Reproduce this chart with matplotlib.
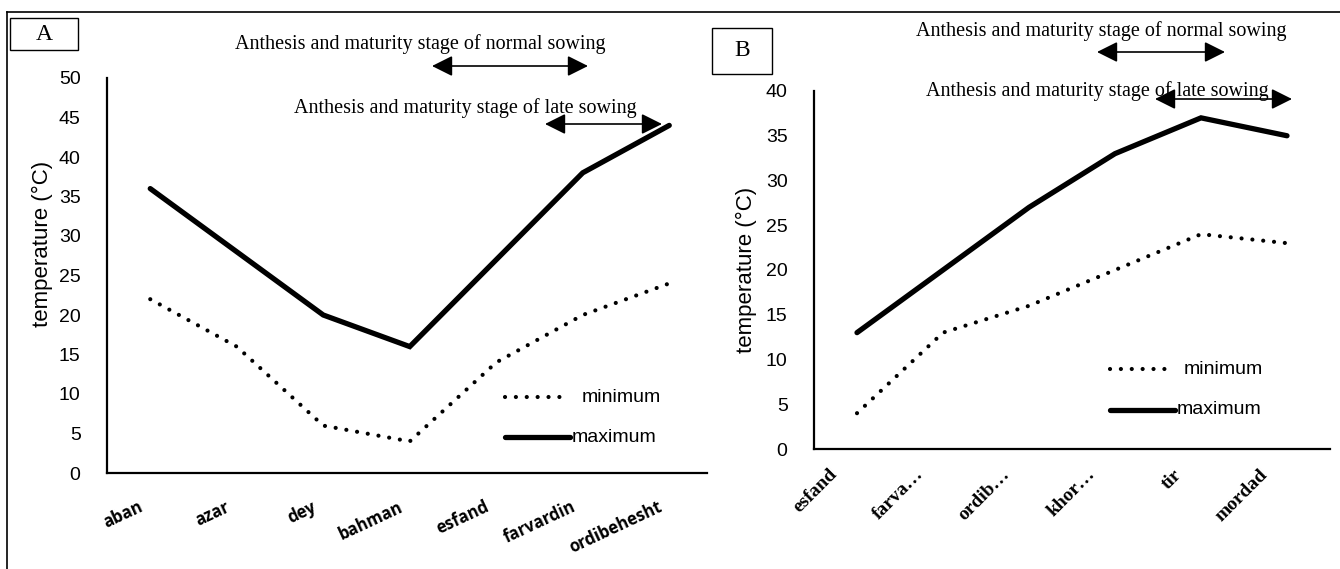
import numpy as np
import matplotlib.pyplot as plt
from matplotlib.transforms import ScaledTranslation
from matplotlib.patches import Rectangle, FancyArrowPatch
from matplotlib.lines import Line2D

# panel A: months of normal sowing
months_a = ['aban', 'azar', 'dey', 'bahman', 'esfand', 'farvardin', 'ordibehesht']
tmin_a = [22, 16, 6, 4, 14, 20, 24]
tmax_a = [36, 28, 20, 16, 27, 38, 44]

# panel B: months of late sowing (labels are cut off in the source)
months_b = ['esfand', 'farva\u2026', 'ordib\u2026', 'khor\u2026', 'tir', 'mordad']
tmin_b = [4, 13, 16, 20, 24, 23]
tmax_b = [13, 20, 27, 33, 37, 35]

yticks_a = np.arange(0, 55, 5)
yticks_b = np.arange(0, 45, 5)

note_normal = 'Anthesis and maturity stage of normal sowing'
note_late = 'Anthesis and maturity stage of late sowing'

W, H = 1340, 569
sans = ['Liberation Sans', 'DejaVu Sans']
serif = ['Liberation Serif', 'DejaVu Serif']
DOTS = (0, (0.01, 2.6))

fig = plt.figure(figsize=(W / 100, H / 100), dpi=100)


def px(x0, y0, x1, y1):
    # pixel box (top-left origin) -> figure fraction rect
    return [x0 / W, 1 - y1 / H, (x1 - x0) / W, (y1 - y0) / H]


def style_axes(ax, yticks, label_xy):
    for s in ['top', 'right']:
        ax.spines[s].set_visible(False)
    for s in ['left', 'bottom']:
        ax.spines[s].set_linewidth(1.6)
    ax.set_yticks(yticks)
    ax.set_ylim(yticks[0], yticks[-1])
    ax.tick_params(axis='y', length=0, pad=19, labelsize=14)
    ax.tick_params(axis='x', length=0)
    for t in ax.get_yticklabels():
        t.set_family(sans)
    ax.set_ylabel('temperature (\u00b0C)', family=sans, fontsize=16)
    ax.yaxis.set_label_coords(*label_xy)


def draw_lines(ax, tmin, tmax):
    x = np.arange(len(tmin))
    ax.plot(x, tmin, color='black', lw=3.0, linestyle=DOTS,
            dash_capstyle='round')
    ax.plot(x, tmax, color='black', lw=3.8, solid_capstyle='round',
            solid_joinstyle='miter')


def legend_px(x0, y_min, y_max, len_min, len_max):
    fig.add_artist(Line2D([x0 / W, (x0 + len_min) / W], [1 - y_min / H] * 2,
                          color='black', lw=3.0, linestyle=DOTS,
                          dash_capstyle='round'))
    fig.text((x0 + len_min + 12) / W, 1 - y_min / H, 'minimum', family=sans,
             fontsize=14, va='center')
    fig.add_artist(Line2D([x0 / W, (x0 + len_max) / W], [1 - y_max / H] * 2,
                          color='black', lw=3.8, solid_capstyle='round'))
    fig.text((x0 + len_max + 2) / W, 1 - y_max / H, 'maximum', family=sans,
             fontsize=14, va='center')


def arrow_px(x0, x1, y):
    fig.add_artist(FancyArrowPatch(
        (x0 / W, 1 - y / H), (x1 / W, 1 - y / H), transform=fig.transFigure,
        arrowstyle='<|-|>,head_length=0.9,head_width=0.45', mutation_scale=14,
        color='black', lw=1.2, shrinkA=0, shrinkB=0))


def box_label(x0, y0, x1, y1, s):
    fig.add_artist(Rectangle((x0 / W, 1 - y1 / H), (x1 - x0) / W, (y1 - y0) / H,
                             transform=fig.transFigure, fill=False,
                             edgecolor='black', lw=1.0))
    fig.text((x0 + x1) / 2 / W, 1 - (y0 + y1) / 2 / H, s, family=serif,
             fontsize=17, ha='center', va='center')


# outer frame lines
fig.add_artist(Line2D([7 / W, 1], [1 - 12 / H] * 2, color='black', lw=1.2))
fig.add_artist(Line2D([7 / W] * 2, [0, 1 - 12 / H], color='black', lw=1.2))

# ---- panel A
axA = fig.add_axes(px(107, 78, 707, 473))
draw_lines(axA, tmin_a, tmax_a)
axA.set_xlim(-0.5, -0.5 + 600 / 86.5)
axA.set_xticks(np.arange(len(months_a)))
axA.set_xticklabels(months_a, rotation=25, ha='right', rotation_mode='anchor',
                    family=['Open Sans', 'DejaVu Sans'], fontweight='bold',
                    fontsize=12)
style_axes(axA, yticks_a, (-0.09, 0.58))
for t in axA.get_xticklabels():
    t.set_transform(t.get_transform() + ScaledTranslation(-0.12, -0.2, fig.dpi_scale_trans))

# ---- panel B
axB = fig.add_axes(px(814, 91, 1330, 449))
draw_lines(axB, tmin_b, tmax_b)
axB.set_xlim(-0.5, 5.5)
axB.set_xticks(np.arange(len(months_b)))
axB.set_xticklabels(months_b, rotation=45, ha='right', rotation_mode='anchor',
                    family=serif, fontweight='bold', fontsize=14)
style_axes(axB, yticks_b, (-0.11, 0.5))
for t in axB.get_xticklabels():
    t.set_transform(t.get_transform() + ScaledTranslation(-0.28, -0.12, fig.dpi_scale_trans))

# legends drawn as in the source (placed inside the plots)
legend_px(505, 397, 437, 65, 65)
legend_px(1110, 369, 410, 62, 65)

# panel letters
box_label(10, 18, 78, 50, 'A')
box_label(712, 28, 772, 74, 'B')

# stage annotations
fig.text(420 / W, 1 - 44 / H, note_normal, family=serif, fontsize=14.5, ha='center', va='center')
arrow_px(432, 588, 66)
fig.text(465 / W, 1 - 108 / H, note_late, family=serif, fontsize=14.5, ha='center', va='center')
arrow_px(545, 662, 124)

fig.text(1101 / W, 1 - 31 / H, note_normal, family=serif, fontsize=14.5, ha='center', va='center')
arrow_px(1097, 1225, 52)
fig.text(1097 / W, 1 - 91 / H, note_late, family=serif, fontsize=14.5, ha='center', va='center')
arrow_px(1155, 1292, 99)

fig.savefig('out.png', dpi=100)
